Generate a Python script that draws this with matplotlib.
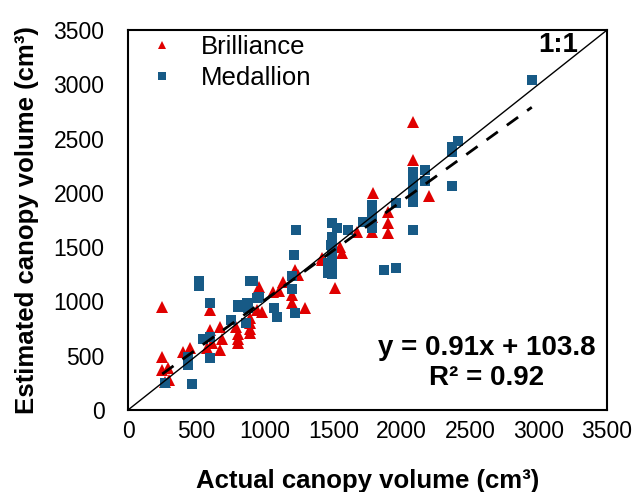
import numpy as np
import matplotlib.pyplot as plt

plt.rcParams['font.family'] = ['Liberation Sans', 'DejaVu Sans']

# Actual vs estimated canopy volume (cm^3)
brill_x = [250, 250, 250, 290, 300, 270, 400, 450, 600, 600, 580, 610, 670, 690,
           670, 790, 800, 800, 800, 890, 890, 940, 960, 980, 890, 890, 1060, 1130,
           1240, 1200, 1200, 1290, 1420, 1550, 1560, 1420, 1510, 1670, 1780, 1900,
           1900, 1900, 1790, 2080, 2080, 2200, 1780, 1220, 1100]
brill_y = [950, 490, 370, 390, 280, 260, 530, 570, 920, 740, 570, 620, 760, 650,
           550, 760, 700, 650, 620, 850, 800, 920, 1130, 900, 750, 710, 1090, 1180,
           1240, 1060, 990, 940, 1400, 1500, 1450, 1380, 1120, 1640, 1640, 1820,
           1720, 1630, 2000, 2300, 2650, 1970, 1780, 1290, 1100]

medal_x = [270, 470, 440, 440, 520, 520, 600, 550, 600, 600, 750, 800, 860, 870,
           940, 800, 880, 910, 890, 960, 1070, 1090, 1200, 1200, 1220, 1210, 1230,
           1480, 1460, 1460, 1490, 1530, 1490, 1610, 1720, 1780, 1780, 1780, 1780,
           1490, 1490, 1490, 1490, 1870, 1960, 1960, 2080, 2080, 2080, 2080, 2080,
           2080, 2170, 2170, 2370, 2370, 2410, 2370, 2950]
medal_y = [250, 240, 490, 410, 1190, 1140, 990, 650, 670, 480, 830, 950, 800, 990,
           1030, 970, 940, 1190, 1190, 1040, 940, 860, 1230, 1110, 890, 1430, 1660,
           1520, 1350, 1260, 1720, 1680, 1590, 1660, 1730, 1890, 1820, 1750, 1680,
           1500, 1420, 1340, 1250, 1290, 1310, 1910, 2190, 2120, 2050, 1980, 1920,
           1660, 2210, 2110, 2380, 2420, 2480, 2060, 3040]

slope, intercept, r2 = 0.91, 103.8, 0.92

red = '#E00000'
blue = '#175A86'

fig = plt.figure(figsize=(6.35, 4.92), dpi=100)
ax = fig.add_axes([0.2016, 0.1667, 0.7544, 0.7723])

ax.plot(brill_x, brill_y, '^', color=red, ms=8.5, mew=0, label='Brilliance', zorder=3)
ax.plot(medal_x, medal_y, 's', color=blue, ms=7, mew=0, label='Medallion', zorder=3)

# 1:1 reference line
ax.plot([0, 3500], [0, 3500], color='black', lw=1, zorder=4)

# fitted regression line over the data range
all_x = np.array(brill_x + medal_x)
xf = np.array([all_x.min(), all_x.max()])
ax.plot(xf, slope * xf + intercept, color='black', lw=2, dashes=(5, 4), zorder=4)

ax.set_xlim(0, 3500)
ax.set_ylim(0, 3500)
ax.set_xticks(np.arange(0, 3501, 500))
ax.set_yticks(np.arange(0, 3501, 500))
ax.tick_params(length=0, labelsize=16.5)
ax.tick_params(axis='x', pad=7)
ax.tick_params(axis='y', pad=17)
for s in ax.spines.values():
    s.set_linewidth(1.5)

ax.set_xlabel('Actual canopy volume (cm³)', fontsize=18.5, fontweight='bold')
ax.set_ylabel('Estimated canopy volume (cm³)', fontsize=18.5, fontweight='bold')
ax.xaxis.set_label_coords(0.5, -0.155)
ax.yaxis.set_label_coords(-0.186, 0.5)

ax.legend(loc='upper left', bbox_to_anchor=(0.023, 1.013), frameon=False, fontsize=18.5,
          markerscale=0.75, handlelength=1.0, handletextpad=1.0, labelspacing=0.25,
          borderaxespad=0)

ax.text(3290, 3360, '1:1', fontsize=20, fontweight='bold', ha='right', va='center')
ax.text(2622, 571, f'y = {slope}x + {intercept}', fontsize=20, fontweight='bold',
        ha='center', va='center')
ax.text(2622, 295, f'R² = {r2}', fontsize=20, fontweight='bold', ha='center', va='center')

fig.savefig('out.png', dpi=100)
